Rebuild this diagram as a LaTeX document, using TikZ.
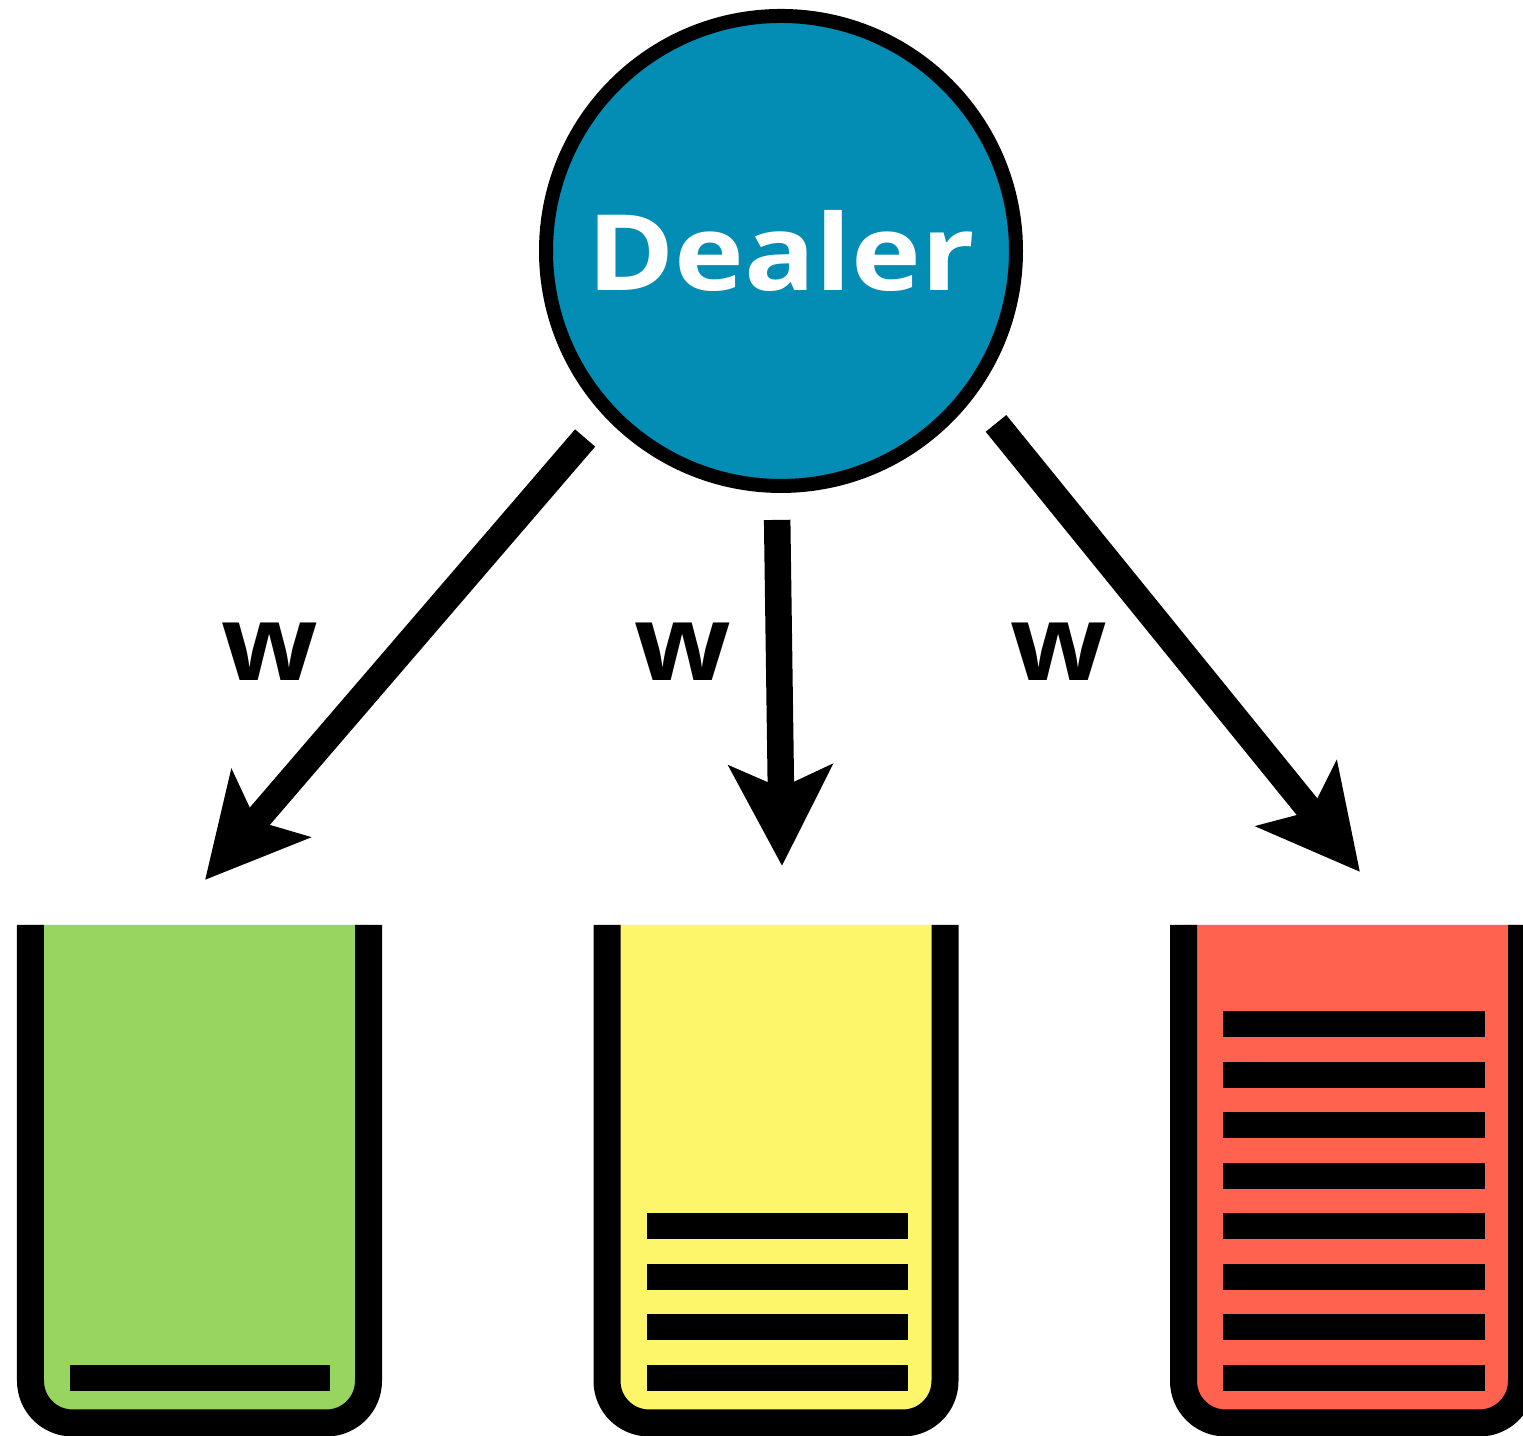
\documentclass[tikz,border=0pt]{standalone}
\usepackage{fontspec}
\setmainfont{Open Sans}
\usetikzlibrary{arrows.meta}
\definecolor{dealerblue}{RGB}{3,140,180}
\definecolor{bucketgreen}{RGB}{152,213,96}
\definecolor{bucketyellow}{RGB}{253,246,106}
\definecolor{bucketred}{RGB}{255,99,80}

\begin{document}
\begin{tikzpicture}[line cap=butt,line join=round,x=1cm,y=1cm,
		arr/.style={-{Stealth[length=1cm,width=1.02cm,inset=0.22cm]},line width=0.265cm},
		bucket/.style={line width=0.27cm,rounded corners=0.42cm},
		bar/.style={fill=black},
		lbl/.style={inner sep=0pt,font=\bfseries\fontsize{30}{30}\selectfont}]
			\useasboundingbox (0,0) rectangle (15.23,14.36);
			\clip(0,0) rectangle (15.23,14.36);
			%%%%%%%%%%%%%%% D E A L E R %%%%%%%%%%%%%%%%
			\node[circle,draw=black,fill=dealerblue,line width=0.14cm,minimum size=4.70cm,inner sep=0pt,text=white,font=\bfseries\fontsize{30}{30}\selectfont] (dealer) at (7.81,11.85) {\scalebox{1.12}[1]{Dealer}};
			%%%%%%%%%%%%%%% B U C K E T S %%%%%%%%%%%%%%%%
			%bucket 0
			\draw [bucket,fill=bucketgreen] (0.305,5.11) -- (0.305,0.13) -- (3.685,0.13) -- (3.685,5.11);
			%bucket 1
			\draw [bucket,fill=bucketyellow] (6.07,5.11) -- (6.07,0.13) -- (9.45,0.13) -- (9.45,5.11);
			%bucket 2
			\draw [bucket,fill=bucketred] (11.835,5.11) -- (11.835,0.13) -- (15.215,0.13) -- (15.215,5.11);
			%%%%%%%%%%%%%%% B A R S %%%%%%%%%%%%%%%%
			%bars 0
			\fill [bar] (0.70,0.45) rectangle (3.30,0.71);
			%bars 1
			\fill [bar] (6.47,0.45) rectangle (9.08,0.71);
			\fill [bar] (6.47,0.96) rectangle (9.08,1.22);
			\fill [bar] (6.47,1.46) rectangle (9.08,1.72);
			\fill [bar] (6.47,1.97) rectangle (9.08,2.23);
			%bars 2
			\fill [bar] (12.23,0.45) rectangle (14.85,0.71);
			\fill [bar] (12.23,0.96) rectangle (14.85,1.22);
			\fill [bar] (12.23,1.46) rectangle (14.85,1.72);
			\fill [bar] (12.23,1.97) rectangle (14.85,2.23);
			\fill [bar] (12.23,2.47) rectangle (14.85,2.73);
			\fill [bar] (12.23,2.98) rectangle (14.85,3.24);
			\fill [bar] (12.23,3.48) rectangle (14.85,3.74);
			\fill [bar] (12.23,3.99) rectangle (14.85,4.25);
			%%%%%%%%%%%%%%% A R R O W S %%%%%%%%%%%%%%%%
			\coordinate (tip0) at (2.05,5.56);
			\coordinate (tip1) at (7.82,5.70);
			\coordinate (tip2) at (13.60,5.64);
			\draw [arr,shorten <=0.29cm] (dealer.223.7) -- (tip0);
			\draw [arr,shorten <=0.27cm] (dealer.269.5) -- (tip1);
			\draw [arr,shorten <=0.345cm] (dealer.323.4) -- (tip2);
			%T A G S
			\node[lbl] (w0) at (2.70,7.845) {\scalebox{1.07}[1]{w}};
			\node[lbl] (w1) at (6.83,7.845) {\scalebox{1.07}[1]{w}};
			\node[lbl] (w2) at (10.59,7.845) {\scalebox{1.07}[1]{w}};
		\end{tikzpicture}
\end{document}
